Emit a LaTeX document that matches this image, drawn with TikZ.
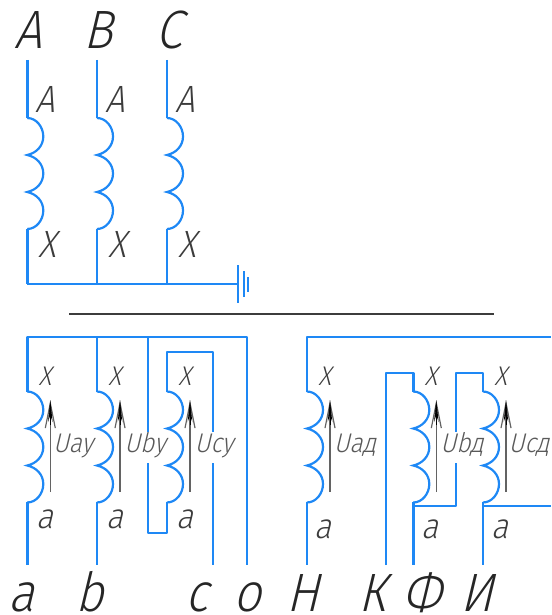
\documentclass[tikz,border=0pt]{standalone}
\usepackage{fontspec}
\usetikzlibrary{arrows.meta}
\newfontfamily\gost[FakeStretch=0.9,FakeSlant=0.24]{Fira Sans Light}
\definecolor{wire}{HTML}{1E88F5}
\definecolor{ink}{HTML}{3C3C3C}
\tikzset{
  wiring/.style={draw=wire,line width=2.4pt,line join=round},
  coilwire/.style={draw=wire,line width=2.2pt},
  rule/.style={draw=ink,line width=1.2pt},
  volt/.style={draw=ink!80,line width=1.4pt,-{Straight Barb[length=25pt,width=10pt,line width=1.2pt]}},
  volthead/.style={draw=black,line width=0.6pt,-{Stealth[length=22pt,width=4.5pt,black]}},
  big/.style={font=\gost\fontsize{54}{54}\selectfont,text=black!85,inner sep=0pt,anchor=base},
  small/.style={font=\gost\fontsize{38}{38}\selectfont,text=ink,inner sep=0pt,anchor=base},
  lettera/.style={font=\gost\fontsize{35}{35}\selectfont,text=ink,inner sep=0pt,anchor=base},
  tiny/.style={font=\gost\fontsize{27}{27}\selectfont,text=ink,inner sep=0pt,anchor=base},
  mid/.style={font=\gost\fontsize{27}{27}\selectfont,text=ink!85,fill=white,inner sep=0pt,text height=20pt,text depth=11pt,anchor=center},
  coil/.pic={
    \draw[coilwire] (0,0) .. controls (9,0) and (16,9) .. (16,18.5) .. controls (16,28) and (9,35) .. (0,37)
      .. controls (9,39) and (16,46) .. (16,55.5) .. controls (16,65) and (9,72) .. (0,74)
      .. controls (9,76) and (16,83) .. (16,92.5) .. controls (16,102) and (9,111) .. (0,111);
  }
}
\begin{document}
\begin{tikzpicture}[x=1pt,y=-1pt]
\useasboundingbox (0,0) rectangle (551,615);
% primary terminals and windings
\node[big] (tA) at (28,49) {A};
\node[big] (tB) at (98,49) {B};
\node[big] (tC) at (169,49) {C};
\foreach \n/\x in {pa/27.3,pb/97,pc/167}{
  \coordinate (\n top) at (\x,60);
  \coordinate (\n u) at (\x,118);
  \coordinate (\n l) at (\x,229);
  \coordinate (\n bus) at (\x,284);
  \pic at (\n u) {coil};
  \draw[wiring] (\n top) -- (\n u);
  \draw[wiring] (\n l) -- (\n bus);
  \node[small] at (\x+18,113) {A};
  \node[small] at (\x+20,257) {X};
}
\coordinate (gnd) at (238,284);
\draw[wiring] (pabus) -- (gnd);
\draw[wiring] (238,265) -- (238,303);
\draw[wiring] (244,271) -- (244,297);
\draw[wiring,line width=2pt] (247.5,277) -- (247.5,292);
% separator
\coordinate (sl) at (69,314);
\coordinate (sr) at (494,314);
\draw[rule] (sl) -- (sr);
% secondary coordinates
\foreach \n/\x/\ay/\ax in {ca/27.3/528/18,cb/97/528/18,cc/167/528/18,cd/307/538/15.5,ce/413.3/538/16.5,cf/483/538/16.5}{
  \coordinate (\n u) at (\x,391.5);
  \coordinate (\n l) at (\x,502);
  \coordinate (\n end) at (\x,565);
  \pic at (\n u) {coil};
  \node[tiny] at (\x+17.5,385) {X};
  \node[lettera] at (\x+\ax,\ay) {a};
  \draw[volt] (\x+23,492) -- (\x+23,400);
  \draw[volthead] (\x+23,425) -- (\x+23,400);
}
% open-delta / star wiring
\coordinate (topl) at (27.3,337);
\coordinate (topr) at (247,337);
\coordinate (endo) at (247,565);
\coordinate (k1) at (148,337);
\coordinate (k2) at (148,533);
\coordinate (k3) at (167,533);
\coordinate (m1) at (167,352);
\coordinate (m2) at (213,352);
\coordinate (m3) at (213,565);
\draw[wiring] (cau) -- (topl) -- (topr) -- (endo);
\draw[wiring] (cbu) -- (97,337);
\draw[wiring] (k1) -- (k2) -- (k3) -- (ccl);
\draw[wiring] (ccu) -- (m1) -- (m2) -- (m3);
\draw[wiring] (cal) -- (caend);
\draw[wiring] (cbl) -- (cbend);
\coordinate (dtop) at (307,337);
\coordinate (dr) at (551,337);
\coordinate (kb) at (386,565);
\coordinate (kt) at (386,373);
\coordinate (et) at (413.3,373);
\coordinate (n1) at (413.3,506);
\coordinate (n2) at (456,506);
\coordinate (n3) at (456,373);
\coordinate (n4) at (483,373);
\coordinate (o1) at (483,506);
\coordinate (o2) at (551,506);
\draw[wiring] (cdu) -- (dtop) -- (dr);
\draw[wiring] (cdl) -- (cdend);
\draw[wiring] (kb) -- (kt) -- (et) -- (ceu);
\draw[wiring] (cel) -- (ceend);
\draw[wiring] (n1) -- (n2) -- (n3) -- (n4) -- (cfu);
\draw[wiring] (cfl) -- (cfend);
\draw[wiring] (o1) -- (o2);
% voltage labels
\node[mid] at (73,447.5) {Uay};
\node[mid] at (145,447.5) {Uby};
\node[mid] at (214,447.5) {Ucy};
\node[mid] at (355,447.5) {Uaд};
\node[mid] at (462,447.5) {Ubд};
\node[mid] at (529,447.5) {Ucд};
% secondary terminals
\node[big] (ta) at (22,611) {a};
\node[big] (tb) at (90,611) {b};
\node[big] (tc) at (197,611) {c};
\node[big] (to) at (247,611) {o};
\node[big] (tH) at (303,611) {Н};
\node[big] (tK) at (372,611) {К};
\node[big] (tF) at (422,611) {Ф};
\node[big] (tI) at (477,611) {И};
\end{tikzpicture}
\end{document}
